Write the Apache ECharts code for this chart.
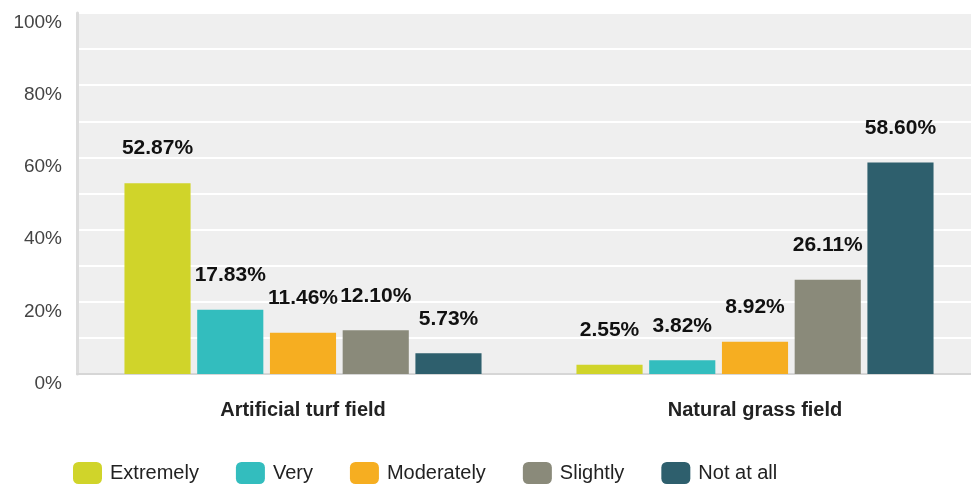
<!DOCTYPE html>
<html>
<head>
<meta charset="utf-8">
<script src="https://cdn.jsdelivr.net/npm/echarts@6/dist/echarts.min.js"></script>
<style>
  html, body { margin: 0; padding: 0; background: #fff; }
  #chart { width: 971px; height: 487px; }
</style>
</head>
<body>
<div id="chart"></div>
<script>
const categories = ['Artificial turf field', 'Natural grass field']
const seriesNames = ['Extremely', 'Very', 'Moderately', 'Slightly', 'Not at all']
const extremely = [52.87, 2.55]
const very = [17.83, 3.82]
const moderately = [11.46, 8.92]
const slightly = [12.10, 26.11]
const notAtAll = [5.73, 58.60]
const colors = ['#d0d42a', '#33bdbe', '#f6ae21', '#8a8a7a', '#2e5f6d']

const allValues = [extremely, very, moderately, slightly, notAtAll]
const font = 'Arial, "Liberation Sans", Helvetica, sans-serif'

const chart = echarts.init(document.getElementById('chart'))

const series = seriesNames.map((name, i) => ({
  name: name,
  type: 'bar',
  data: allValues[i],
  barGap: '10%',
  barCategoryGap: '21%',
  itemStyle: { color: colors[i] },
  label: {
    show: true,
    position: 'top',
    distance: 24,
    color: '#111',
    fontWeight: 'bold',
    fontSize: 21,
    fontFamily: font,
    formatter: function (p) {
      return p.value.toFixed(2) + '%'
    },
  },
}))

const option = {
  animation: false,
  color: colors,
  grid: {
    left: 77,
    width: 904,
    top: 13,
    bottom: 113,
    outerBoundsMode: 'none',
    show: true,
    backgroundColor: '#efefef',
    borderWidth: 0,
  },
  legend: {
    top: 457,
    left: 68,
    itemWidth: 29,
    itemHeight: 22,
    itemGap: 37,
    icon: 'roundRect',
    textStyle: { fontSize: 20, color: '#222', fontFamily: font, padding: [0, 0, 0, 3] },
    data: seriesNames,
  },
  xAxis: {
    type: 'category',
    data: categories,
    axisLine: { lineStyle: { color: '#d6d6d6', width: 2 } },
    axisTick: { show: false },
    axisLabel: {
      margin: 26,
      color: '#222',
      fontWeight: 'bold',
      fontSize: 20,
      fontFamily: font,
    },
  },
  yAxis: {
    type: 'value',
    min: 0,
    max: 100,
    interval: 10,
    axisLine: { show: true, lineStyle: { color: '#dcdcdc', width: 3 } },
    axisTick: { show: false },
    splitLine: { lineStyle: { color: '#ffffff', width: 2 } },
    axisLabel: {
      margin: 15,
      color: '#444',
      fontSize: 19,
      fontFamily: font,
      verticalAlign: 'top',
      padding: [0, 0, 0, 0],
      formatter: function (v) {
        return v % 20 === 0 ? v + '%' : ''
      },
    },
  },
  series: series,
}

chart.setOption(option)
</script>
</body>
</html>
